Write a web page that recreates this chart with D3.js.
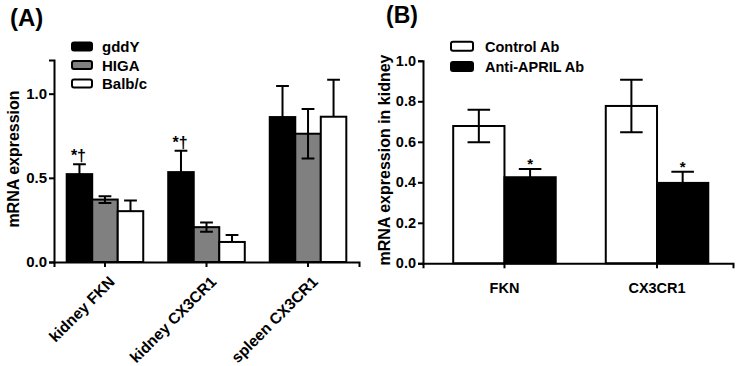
<!DOCTYPE html>
<html>
<head>
<meta charset="utf-8">
<script src="https://cdn.jsdelivr.net/npm/d3@7"></script>
<style>
  body { margin: 0; background: #fff; }
  svg text { font-family: "Liberation Sans", Arial, sans-serif; font-weight: bold; fill: #000; }
  .axis path, .axis line { stroke: #000; stroke-width: 2px; }
</style>
</head>
<body>
<div id="chart"></div>
<script>
/* DATA - panel A */
var groupsA = ["kidney FKN", "kidney CX3CR1", "spleen CX3CR1"];
var seriesA = ["gddY", "HIGA", "Balb/c"];
var gddYMean = [0.522, 0.534, 0.861];
var gddYSem  = [0.058, 0.127, 0.185];
var higaMean = [0.371, 0.207, 0.762];
var higaSem  = [0.020, 0.027, 0.147];
var balbMean = [0.302, 0.119, 0.863];
var balbSem  = [0.063, 0.042, 0.219];
var marksA   = ["*\u2020", "*\u2020", ""];   // only on gddY
var ticksA   = [0, 0.5, 1.0];

/* DATA - panel B */
var groupsB = ["FKN", "CX3CR1"];
var seriesB = ["Control Ab", "Anti-APRIL Ab"];
var controlMean = [0.678, 0.777];
var controlSem  = [0.080, 0.130];
var antiMean    = [0.425, 0.397];
var antiSem     = [0.041, 0.055];
var marksB      = ["*", "*"];   // only on Anti-APRIL
var ticksB      = [0, 0.2, 0.4, 0.6, 0.8, 1.0];

var width = 737, height = 366;
var svg = d3.select("#chart").append("svg")
    .attr("width", width)
    .attr("height", height);

/* PANEL A */
var fillA = { "gddY": "#000000", "HIGA": "#808080", "Balb/c": "#ffffff" };
var tableA = [];
groupsA.forEach(function(g, i) {
    tableA.push({ group: g, series: "gddY", mean: gddYMean[i], sem: gddYSem[i], mark: marksA[i] });
    tableA.push({ group: g, series: "HIGA", mean: higaMean[i], sem: higaSem[i], mark: "" });
    tableA.push({ group: g, series: "Balb/c", mean: balbMean[i], sem: balbSem[i], mark: "" });
});

var xA = d3.scaleBand().domain(groupsA).range([54, 359]).paddingInner(0.246).paddingOuter(0.125);
var xsA = d3.scaleBand().domain(seriesA).range([0, xA.bandwidth()]);
var yA = d3.scaleLinear().domain([0, 1.2]).range([262, 60]);

var gA = svg.append("g");

gA.selectAll("rect.bar")
    .data(tableA)
    .enter()
    .append("rect")
        .attr("class", "bar")
        .attr("x", function(d) { return xA(d.group) + xsA(d.series); })
        .attr("y", function(d) { return yA(d.mean); })
        .attr("width", xsA.bandwidth())
        .attr("height", function(d) { return yA(0) - yA(d.mean); })
        .attr("fill", function(d) { return fillA[d.series]; })
        .attr("stroke", "#000")
        .attr("stroke-width", 2);

// error bars (white bars only show the upper half)
gA.selectAll("path.err")
    .data(tableA)
    .enter()
    .append("path")
        .attr("class", "err")
        .attr("fill", "none")
        .attr("stroke", "#000")
        .attr("stroke-width", 2)
        .attr("d", function(d) {
            var cx = xA(d.group) + xsA(d.series) + xsA.bandwidth() / 2;
            var w = xsA.bandwidth() / 4;
            var top = yA(d.mean + d.sem);
            var bot = d.series == "Balb/c" ? yA(d.mean) : yA(d.mean - d.sem);
            var p = "M" + cx + "," + bot + "V" + top + "M" + (cx - w) + "," + top + "H" + (cx + w);
            if (d.series != "Balb/c") p += "M" + (cx - w) + "," + bot + "H" + (cx + w);
            return p;
        });

gA.selectAll("text.mark")
    .data(tableA.filter(function(d) { return d.mark != ""; }))
    .enter()
    .append("text")
        .attr("class", "mark")
        .attr("x", function(d) { return xA(d.group) + xsA(d.series) + xsA.bandwidth() / 2 - 1; })
        .attr("y", function(d) { return yA(d.mean + d.sem) - 3; })
        .attr("text-anchor", "middle")
        .style("font-size", "16px")
        .text(function(d) { return d.mark; });

gA.append("g")
    .attr("class", "axis")
    .attr("transform", "translate(54,0)")
    .call(d3.axisLeft(yA).tickValues(ticksA).tickFormat(d3.format(".1f")).tickSizeOuter(0).tickSize(5).tickPadding(2))
    .call(function(g) { g.selectAll("text").style("font-size", "15px").style("font-family", null); });

gA.append("g")
    .attr("class", "axis")
    .attr("transform", "translate(0,262)")
    .call(d3.axisBottom(xA).tickSizeOuter(0).tickSize(5))
    .call(function(g) {
        g.selectAll("text")
            .style("font-size", "15.5px")
            .style("font-family", null)
            .attr("y", 0)
            .attr("dy", "0.71em")
            .attr("text-anchor", "end")
            .attr("transform", "translate(3,13) rotate(-45)");
    });

gA.append("text")
    .attr("transform", "translate(19,159) rotate(-90)")
    .attr("text-anchor", "middle")
    .style("font-size", "16px")
    .text("mRNA expression");

gA.append("text")
    .attr("x", 10)
    .attr("y", 26)
    .style("font-size", "24px")
    .text("(A)");

var legA = gA.selectAll("g.leg")
    .data(seriesA)
    .enter()
    .append("g")
        .attr("class", "leg")
        .attr("transform", function(d, i) { return "translate(71," + (46.5 + i * 18.5) + ")"; });
legA.append("rect")
    .attr("x", 1).attr("y", -4).attr("width", 20).attr("height", 8).attr("rx", 2)
    .attr("fill", function(d) { return fillA[d]; })
    .attr("stroke", "#000").attr("stroke-width", 2);
legA.append("text")
    .attr("x", 31).attr("y", 5.5)
    .style("font-size", "15px")
    .text(function(d) { return d; });

/* PANEL B */
var fillB = { "Control Ab": "#ffffff", "Anti-APRIL Ab": "#000000" };
var tableB = [];
groupsB.forEach(function(g, i) {
    tableB.push({ group: g, series: "Control Ab", mean: controlMean[i], sem: controlSem[i], mark: "" });
    tableB.push({ group: g, series: "Anti-APRIL Ab", mean: antiMean[i], sem: antiSem[i], mark: marksB[i] });
});

var xB = d3.scaleBand().domain(groupsB).range([423, 733]).paddingInner(0.328).paddingOuter(0.18).align(0.55);
var xsB = d3.scaleBand().domain(seriesB).range([0, xB.bandwidth()]);
var yB = d3.scaleLinear().domain([0, 1]).range([263.3, 60.8]);

var gB = svg.append("g");

gB.selectAll("rect.bar")
    .data(tableB)
    .enter()
    .append("rect")
        .attr("class", "bar")
        .attr("x", function(d) { return xB(d.group) + xsB(d.series); })
        .attr("y", function(d) { return yB(d.mean); })
        .attr("width", xsB.bandwidth())
        .attr("height", function(d) { return yB(0) - yB(d.mean); })
        .attr("fill", function(d) { return fillB[d.series]; })
        .attr("stroke", "#000")
        .attr("stroke-width", 2);

gB.selectAll("path.err")
    .data(tableB)
    .enter()
    .append("path")
        .attr("class", "err")
        .attr("fill", "none")
        .attr("stroke", "#000")
        .attr("stroke-width", 2)
        .attr("d", function(d) {
            var cx = xB(d.group) + xsB(d.series) + xsB.bandwidth() / 2;
            var w = xsB.bandwidth() * 0.22;
            var top = yB(d.mean + d.sem);
            var bot = yB(d.mean - d.sem);
            return "M" + cx + "," + bot + "V" + top +
                   "M" + (cx - w) + "," + top + "H" + (cx + w) +
                   "M" + (cx - w) + "," + bot + "H" + (cx + w);
        });

gB.selectAll("text.mark")
    .data(tableB.filter(function(d) { return d.mark != ""; }))
    .enter()
    .append("text")
        .attr("class", "mark")
        .attr("x", function(d) { return xB(d.group) + xsB(d.series) + xsB.bandwidth() / 2; })
        .attr("y", function(d) { return yB(d.mean + d.sem) + 0.5; })
        .attr("text-anchor", "middle")
        .style("font-size", "15px")
        .text(function(d) { return d.mark; });

gB.append("g")
    .attr("class", "axis")
    .attr("transform", "translate(423,0)")
    .call(d3.axisLeft(yB).tickValues(ticksB).tickFormat(d3.format(".1f")).tickSizeOuter(0).tickSize(5).tickPadding(2))
    .call(function(g) { g.selectAll("text").style("font-size", "14.5px").style("font-family", null); });

gB.append("g")
    .attr("class", "axis")
    .attr("transform", "translate(0,263.3)")
    .call(d3.axisBottom(xB).tickSizeOuter(0).tickSize(5).tickPadding(14))
    .call(function(g) { g.selectAll("text").style("font-size", "14.5px").style("font-family", null); });

gB.append("text")
    .attr("transform", "translate(390,160) rotate(-90)")
    .attr("text-anchor", "middle")
    .style("font-size", "16px")
    .text("mRNA expression in kidney");

gB.append("text")
    .attr("x", 386)
    .attr("y", 23)
    .style("font-size", "23px")
    .text("(B)");

var legB = gB.selectAll("g.leg")
    .data(seriesB)
    .enter()
    .append("g")
        .attr("class", "leg")
        .attr("transform", function(d, i) { return "translate(450," + (46.2 + i * 20.3) + ")"; });
legB.append("rect")
    .attr("x", 1).attr("y", -4.5).attr("width", 22).attr("height", 9).attr("rx", 2)
    .attr("fill", function(d) { return fillB[d]; })
    .attr("stroke", "#000").attr("stroke-width", 2);
legB.append("text")
    .attr("x", 35).attr("y", 5.5)
    .style("font-size", "14.5px")
    .text(function(d) { return d; });
</script>
</body>
</html>
